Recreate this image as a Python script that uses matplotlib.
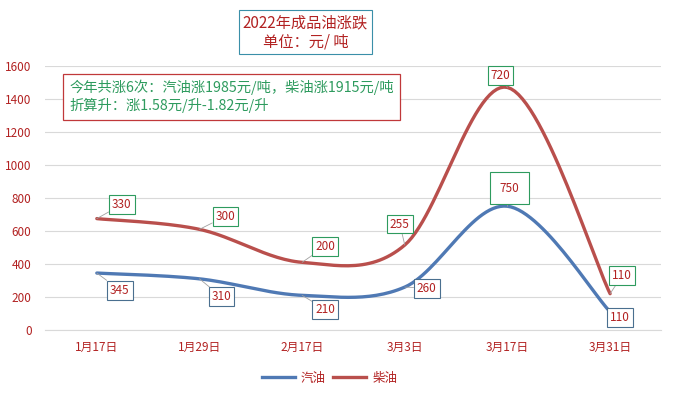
import numpy as np
import matplotlib.pyplot as plt
from matplotlib.lines import Line2D

plt.rcParams['font.family'] = ['Noto Sans CJK SC', 'DejaVu Sans']

# data (stacked line chart: 柴油 drawn on top of 汽油)
dates = ['1月17日', '1月29日', '2月17日', '3月3日', '3月17日', '3月31日']
gasoline = [345, 310, 210, 260, 750, 110]
diesel = [330, 300, 200, 255, 720, 110]

blue = '#4F79B4'
red = '#B94F4C'
dark_red = '#B22222'
green = '#2E9B5E'


def smooth(xs, ys, n=30):
    # Catmull-Rom style smoothing like Excel's "smoothed line"
    xs = np.asarray(xs, float)
    ys = np.asarray(ys, float)
    px = np.concatenate([[xs[0]], xs, [xs[-1]]])
    py = np.concatenate([[ys[0]], ys, [ys[-1]]])
    ox, oy = [], []
    t = np.linspace(0, 1, n)
    for i in range(1, len(px) - 2):
        p0, p1, p2, p3 = (np.array([px[j], py[j]]) for j in range(i - 1, i + 3))
        c1 = p1 + (p2 - p0) / 6
        c2 = p2 - (p3 - p1) / 6
        b = ((1 - t) ** 3)[:, None] * p1 + (3 * (1 - t) ** 2 * t)[:, None] * c1 \
            + (3 * (1 - t) * t ** 2)[:, None] * c2 + (t ** 3)[:, None] * p2
        ox.extend(b[:, 0])
        oy.extend(b[:, 1])
    return ox, oy


x = np.arange(len(dates))
top = np.array(gasoline) + np.array(diesel)

fig = plt.figure(figsize=(6.77, 3.98), dpi=100)
ax = fig.add_axes([0.0672, 0.1709, 0.9098, 0.6633])
ax.set_xlim(-0.5, len(dates) - 0.5)
ax.set_ylim(0, 1600)
ax.set_yticks(range(0, 1601, 200))
ax.set_xticks(x)
ax.set_xticklabels(dates)
ax.grid(axis='y', color='#D9D9D9', lw=0.8)
ax.set_axisbelow(True)
for s in ['top', 'right', 'left']:
    ax.spines[s].set_visible(False)
ax.spines['bottom'].set_color('#D9D9D9')
ax.tick_params(length=0, colors=dark_red, labelsize=8.5)
ax.tick_params(axis='x', pad=8)
ax.tick_params(axis='y', pad=10)

bx, by = smooth(x, gasoline)
ax.plot(bx, by, color=blue, lw=2.4, solid_capstyle='round')
rx, ry = smooth(x, top)
ax.plot(rx, ry, color=red, lw=2.4, solid_capstyle='round')

# label offsets in pixels (dx, dy)
red_off = [(25, 14), (26, 13), (23, 16), (-5, 21), (-7, 12), (12, 18)]
blue_off = [(23, -17), (22, -18), (23, -14), (22, -1), (2, 18), (10, -6)]
blue_edge = ['#4A6F8F', '#4A6F8F', '#4A6F8F', '#4A6F8F', green, '#4A6F8F']

for i in range(len(dates)):
    ax.annotate(str(diesel[i]), (x[i], top[i]), xytext=red_off[i], textcoords='offset pixels',
                ha='center', va='center', fontsize=8.5, color=dark_red,
                bbox=dict(boxstyle='square,pad=0.25', fc='white', ec=green, lw=0.8),
                arrowprops=dict(arrowstyle='-', color='#A0A0A0', lw=0.6, shrinkA=0, shrinkB=0))
    pad = 0.8 if i == 4 else 0.25
    ax.annotate(str(gasoline[i]), (x[i], gasoline[i]), xytext=blue_off[i], textcoords='offset pixels',
                ha='center', va='center', fontsize=8.5, color=dark_red,
                bbox=dict(boxstyle='square,pad=%s' % pad, fc='white', ec=blue_edge[i], lw=0.8),
                arrowprops=dict(arrowstyle='-', color='#A0A0A0', lw=0.6, shrinkA=0, shrinkB=0))

# title box
fig.text(0.451, 0.919, '2022年成品油涨跌\n单位：元/ 吨', ha='center', va='center',
         fontsize=11, color=dark_red, linespacing=1.15,
         bbox=dict(boxstyle='square,pad=0.25', fc='white', ec='#3A8FA8', lw=0.8))

# note box
fig.text(0.102, 0.757, '今年共涨6次：汽油涨1985元/吨，柴油涨1915元/吨\n折算升：涨1.58元/升-1.82元/升',
         ha='left', va='center', fontsize=10.3, color=green, linespacing=1.25,
         bbox=dict(boxstyle='square,pad=0.45', fc='white', ec='#C0383A', lw=0.9))

handles = [Line2D([], [], color=blue, lw=2.4), Line2D([], [], color=red, lw=2.4)]
leg = fig.legend(handles, ['汽油', '柴油'], loc='center', bbox_to_anchor=(0.487, 0.05), ncol=2,
                 frameon=False, fontsize=9, handlelength=2.6, columnspacing=0.6, handletextpad=0.5)
for t in leg.get_texts():
    t.set_color(dark_red)

fig.savefig('out.png', dpi=100)
